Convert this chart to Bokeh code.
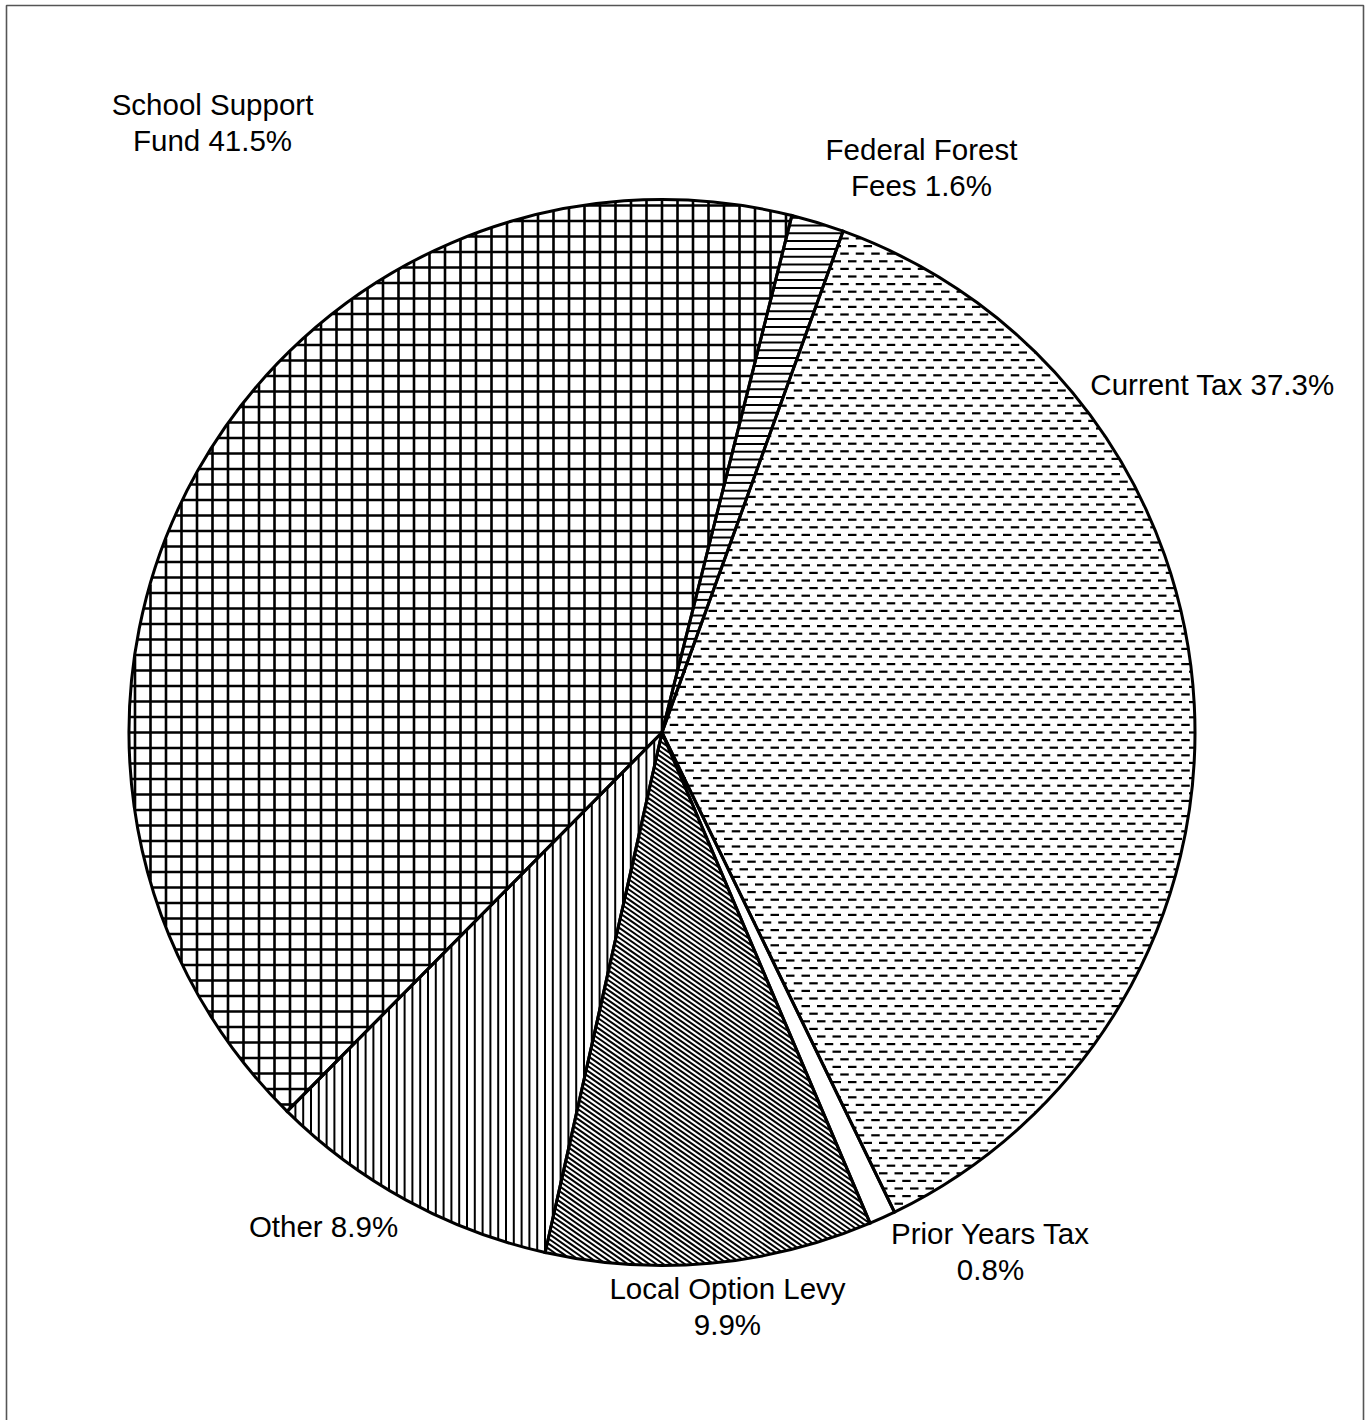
import math

from bokeh.core.properties import value
from bokeh.embed import file_html
from bokeh.models import ColumnDataSource, Range1d
from bokeh.plotting import figure
from bokeh.resources import INLINE

# Revenue sources, in clockwise order starting just right of twelve o'clock
categories = ["Federal Forest Fees", "Current Tax", "Prior Years Tax",
              "Local Option Levy", "Other", "School Support Fund"]
shares = [1.6, 37.3, 0.8, 9.9, 8.9, 41.5]
label_names = ["Federal Forest\nFees", "Current Tax", "Prior Years Tax\n",
               "Local Option Levy\n", "Other", "School Support\nFund"]

# Hatch style per slice: list of line families
#   (angle_deg, spacing, width, dash_len or None, dash_period, stagger)
hatch_styles = {
    "Federal Forest Fees": [(0, 7.8, 2.0, None, 0, False)],
    "Current Tax": [(0, 7.6, 2.2, 8.5, 15.5, True)],
    "Prior Years Tax": [],
    "Local Option Levy": [(-35, 4.1, 2.0, None, 0, False)],
    "Other": [(90, 7.8, 2.0, None, 0, False)],
    "School Support Fund": [(0, 15.5, 2.6, None, 0, False),
                            (90, 15.5, 2.6, None, 0, False)],
}

W, H = 1370, 1420
CX, CY, R = 661.5, H - 732, 533
START_DEG = 14.1  # clockwise from twelve o'clock
OUTLINE_W = 3.0

# Label anchor points (screen px) for each slice
label_anchor = [(921, 167), (1212, 384), (990, 1251),
                (727, 1306), (323, 1226), (212, 122)]

total = sum(shares)
starts, ends = [], []
acc = START_DEG
for s in shares:
    a0 = acc
    a1 = acc + 360.0 * s / total
    # clockwise-from-top -> counterclockwise-from-east
    starts.append(math.radians(90 - a1))
    ends.append(math.radians(90 - a0))
    acc = a1


def clip_to_sector(ax, ay, bx, by, phi_s, phi_e, r):
    """Clip segment A-B to the convex pie sector phi_s..phi_e (ccw)."""
    dx, dy = bx - ax, by - ay
    fx, fy = ax - CX, ay - CY
    t0, t1 = 0.0, 1.0
    a = dx * dx + dy * dy
    b = 2 * (fx * dx + fy * dy)
    c = fx * fx + fy * fy - r * r
    disc = b * b - 4 * a * c
    if a == 0 or disc <= 0:
        return None
    sq = math.sqrt(disc)
    t0 = max(t0, (-b - sq) / (2 * a))
    t1 = min(t1, (-b + sq) / (2 * a))
    n1 = (-math.sin(phi_s), math.cos(phi_s))
    n2 = (math.sin(phi_e), -math.cos(phi_e))
    for nx, ny in (n1, n2):
        num = nx * fx + ny * fy
        den = nx * dx + ny * dy
        if abs(den) < 1e-12:
            if num < 0:
                return None
        elif den > 0:
            t0 = max(t0, -num / den)
        else:
            t1 = min(t1, -num / den)
    if t1 <= t0:
        return None
    return (ax + t0 * dx, ay + t0 * dy, ax + t1 * dx, ay + t1 * dy)


def hatch_segments(phi_s, phi_e, families, r):
    segs = {"x0": [], "y0": [], "x1": [], "y1": [], "w": []}
    span = r * 1.2
    for ang, sp, w, dash, period, stagger in families:
        th = math.radians(ang)
        ux, uy = math.cos(th), math.sin(th)
        nx, ny = -uy, ux
        kmax = int(r / sp) + 2
        for k in range(-kmax, kmax + 1):
            ox, oy = CX + nx * k * sp, CY + ny * k * sp
            pieces = []
            if dash is None:
                pieces.append((-span, span))
            else:
                shift = (period / 2) if (stagger and k % 2) else 0.0
                jmax = int(span / period) + 2
                for j in range(-jmax, jmax + 1):
                    s0 = j * period + shift
                    pieces.append((s0, s0 + dash))
            for s0, s1 in pieces:
                seg = clip_to_sector(ox + ux * s0, oy + uy * s0,
                                     ox + ux * s1, oy + uy * s1,
                                     phi_s, phi_e, r)
                if seg is None:
                    continue
                segs["x0"].append(seg[0])
                segs["y0"].append(seg[1])
                segs["x1"].append(seg[2])
                segs["y1"].append(seg[3])
                segs["w"].append(w)
    return segs


src = ColumnDataSource(dict(cat=categories, share=shares,
                            start=starts, end=ends))

p = figure(width=W, height=H, x_range=Range1d(0, W), y_range=Range1d(0, H),
           x_axis_type=None, y_axis_type=None, output_backend="svg",
           toolbar_location=None, min_border=0)
p.outline_line_color = None
p.grid.visible = False
p.background_fill_color = "white"

# white slice bodies
p.wedge(x=CX, y=CY, radius=R, start_angle="start", end_angle="end",
        source=src, fill_color="white", line_color=None)

# hatch fill of each slice
all_segs = {"x0": [], "y0": [], "x1": [], "y1": [], "w": []}
for cat, ps, pe in zip(categories, starts, ends):
    segs = hatch_segments(ps, pe, hatch_styles[cat], R - 0.5)
    for key in all_segs:
        all_segs[key].extend(segs[key])
p.segment(x0="x0", y0="y0", x1="x1", y1="y1", line_width="w",
          line_color="black", line_cap="butt",
          source=ColumnDataSource(all_segs))

# slice outlines
p.wedge(x=CX, y=CY, radius=R, start_angle="start", end_angle="end",
        source=src, fill_color=None, line_color="black",
        line_width=OUTLINE_W, line_join="miter")

labels = []
for name, s in zip(label_names, shares):
    sep = "" if name.endswith("\n") else " "
    labels.append(f"{name}{sep}{s}%")

lsrc = ColumnDataSource(dict(
    x=[a[0] for a in label_anchor],
    y=[H - a[1] for a in label_anchor],
    text=labels,
))
p.text(x="x", y="y", text="text", source=lsrc, text_align="center",
       text_baseline="middle", text_font=value("Liberation Sans"),
       text_font_size="29.5px", text_color="black", text_line_height=1.1)

# page border (open at the bottom)
p.line(x=[6, 6, 1363, 1363], y=[-10, H - 5, H - 5, -10],
       line_color="#555555", line_width=1.6)

open("out.html", "w").write(file_html(p, INLINE))
